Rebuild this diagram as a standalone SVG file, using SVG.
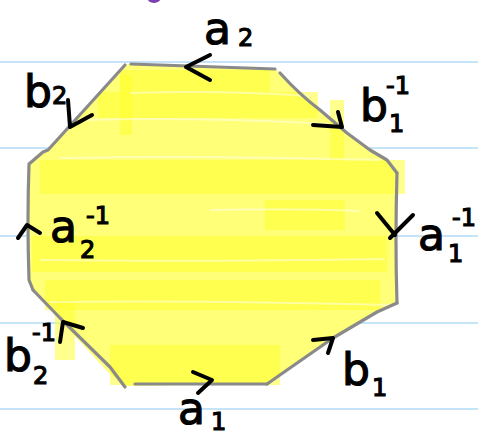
<svg xmlns="http://www.w3.org/2000/svg" width="478" height="436" viewBox="0 0 478 436">
<style>
.rule{stroke:#c6e4f7;stroke-width:2;fill:none}
.edge{stroke:#8a8a8a;stroke-width:3.2;fill:none;stroke-linecap:round;stroke-linejoin:round}
.arr{stroke:#000;stroke-width:4;fill:none;stroke-linecap:round;stroke-linejoin:round}
.lbl{font-family:"DejaVu Sans",sans-serif;fill:#000;stroke:#000;stroke-width:1.2}
.big{font-size:44px}
.sm{font-size:24px}
.hl{fill:#ffff30;opacity:0.55}
.gap{stroke:#fffff0;stroke-width:2;opacity:0.5;fill:none}
</style>
<rect width="478" height="436" fill="#ffffff"/>
<g id="paper">
<line class="rule" x1="0" y1="62" x2="478" y2="62"/>
<line class="rule" x1="0" y1="148" x2="478" y2="148"/>
<line class="rule" x1="0" y1="236" x2="478" y2="236"/>
<line class="rule" x1="0" y1="323" x2="478" y2="323"/>
<line class="rule" x1="0" y1="409" x2="478" y2="409"/>
<ellipse cx="154" cy="-3" rx="7" ry="6" fill="#7b3fb2"/>
</g>
<g id="octagon">
<polygon points="128,64 276,69 293,87 347,133 388,160 397,175 397,303 377,312 333,338 267,384 125,386 108,372 60,320 33,292 28,280 28,163 43,150 48,150" fill="#ffff78"/>
<rect class="hl" x="120" y="70" width="150" height="22"/>
<rect class="hl" x="98" y="92" width="220" height="26"/>
<rect class="hl" x="40" y="160" width="365" height="34"/>
<rect class="hl" x="265" y="200" width="80" height="30"/>
<rect class="hl" x="32" y="236" width="355" height="36"/>
<rect class="hl" x="45" y="280" width="335" height="30"/>
<rect class="hl" x="110" y="345" width="170" height="40"/>
<rect class="hl" x="330" y="100" width="14" height="60"/>
<rect class="hl" x="120" y="75" width="12" height="60"/>
<rect class="hl" x="55" y="300" width="20" height="60"/>
<path class="gap" d="M130,93 Q220,90 310,96"/>
<path class="gap" d="M80,120 Q200,117 330,124"/>
<path class="gap" d="M60,158 Q200,155 380,160"/>
<path class="gap" d="M210,210 Q300,208 360,211"/>
<path class="gap" d="M40,260 Q200,262 385,259"/>
<path class="gap" d="M50,302 Q200,300 390,305"/>
<path class="edge" d="M131,64 L275,69"/>
<path class="edge" d="M125,65 L48,150 L43,152 L29,164 Q27,220 29,280 L33,290"/>
<path class="edge" d="M33,290 L60,318 L110,367 L125,387"/>
<path class="edge" d="M135,384 L267,384"/>
<path class="edge" d="M267,384 L333,338 L377,312 L397,303"/>
<path class="edge" d="M397,173 Q395,240 397,303"/>
<path class="edge" d="M280,73 Q300,95 320,110 L347,133 L370,150 L387,160 L397,173"/>
</g>
<g id="connectors">
<path class="arr" d="M210,55 L186,67 L210,80"/>
<path class="arr" d="M68,100 L70,127 L92,115"/>
<path class="arr" d="M313,125 L342,127 L338,112"/>
<path class="arr" d="M18,238 L27,225 L40,233"/>
<path class="arr" d="M377,213 L395,235 M413,215 L390,238"/>
<path class="arr" d="M60,342 L63,322 L83,328"/>
<path class="arr" d="M193,372 L212,380 L198,393"/>
<path class="arr" d="M313,340 L333,338 L328,353"/>
</g>
<g id="label-a2"><text class="lbl"><tspan class="big" x="204" y="44">a</tspan><tspan class="sm" x="238" y="46">2</tspan></text></g>
<g id="label-b2"><text class="lbl"><tspan class="big" x="24" y="107">b</tspan><tspan class="sm" x="52" y="104">2</tspan></text></g>
<g id="label-b1inv"><text class="lbl"><tspan class="big" x="360" y="121">b</tspan><tspan class="sm" x="386" y="94">-1</tspan><tspan class="sm" x="389" y="132">1</tspan></text></g>
<g id="label-a2inv"><text class="lbl"><tspan class="big" x="50" y="242">a</tspan><tspan class="sm" x="86" y="224">-1</tspan><tspan class="sm" x="80" y="258">2</tspan></text></g>
<g id="label-a1inv"><text class="lbl"><tspan class="big" x="418" y="250">a</tspan><tspan class="sm" x="452" y="226">-1</tspan><tspan class="sm" x="448" y="262">1</tspan></text></g>
<g id="label-b2inv"><text class="lbl"><tspan class="big" x="4" y="371">b</tspan><tspan class="sm" x="32" y="341">-1</tspan><tspan class="sm" x="33" y="384">2</tspan></text></g>
<g id="label-b1"><text class="lbl"><tspan class="big" x="342" y="385">b</tspan><tspan class="sm" x="372" y="396">1</tspan></text></g>
<g id="label-a1"><text class="lbl"><tspan class="big" x="178" y="424">a</tspan><tspan class="sm" x="211" y="430">1</tspan></text></g>
</svg>
